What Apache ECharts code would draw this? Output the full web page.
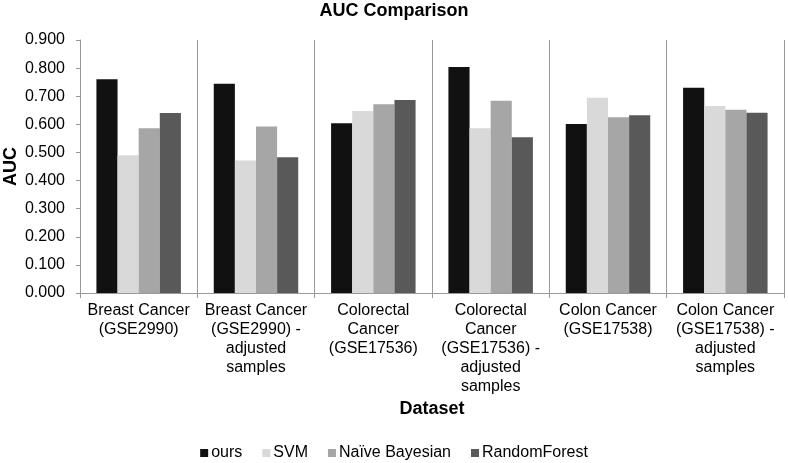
<!DOCTYPE html>
<html>
<head>
<meta charset="utf-8">
<script src="https://cdn.jsdelivr.net/npm/echarts@6/dist/echarts.min.js"></script>
<style>html,body{margin:0;padding:0;background:#fff;}#c{width:788px;height:463px;}</style>
</head>
<body>
<div id="c"></div>
<script>
var categories = [
  "Breast Cancer\n(GSE2990)",
  "Breast Cancer\n(GSE2990) -\nadjusted\nsamples",
  "Colorectal\nCancer\n(GSE17536)",
  "Colorectal\nCancer\n(GSE17536) -\nadjusted\nsamples",
  "Colon Cancer\n(GSE17538)",
  "Colon Cancer\n(GSE17538) -\nadjusted\nsamples"
];
var seriesNames = ["ours", "SVM", "Naïve Bayesian", "RandomForest"];
var ours = [0.760, 0.744, 0.604, 0.804, 0.601, 0.730];
var svm = [0.490, 0.471, 0.647, 0.586, 0.695, 0.665];
var naiveBayes = [0.586, 0.592, 0.671, 0.684, 0.625, 0.652];
var randomForest = [0.640, 0.483, 0.687, 0.554, 0.632, 0.641];
var colors = ["#111111", "#d9d9d9", "#a6a6a6", "#595959"];
var values = [ours, svm, naiveBayes, randomForest];

var font = "'Liberation Sans', Arial, sans-serif";
var chart = echarts.init(document.getElementById('c'));
chart.setOption({
  animation: false,
  title: {
    text: "AUC Comparison", left: 'center', top: 2, padding: 0,
    textStyle: {fontFamily: font, fontSize: 18, fontWeight: 'bold', color: '#000'}
  },
  legend: {
    bottom: 2, left: 'center', padding: 0, itemWidth: 8, itemHeight: 8, itemGap: 20,
    icon: 'rect',
    textStyle: {fontFamily: font, fontSize: 16, color: '#000', padding: [0, 0, 0, -2]},
    data: seriesNames
  },
  grid: {left: 80, right: 4, top: 40, bottom: 170, containLabel: false, outerBoundsMode: 'none'},
  xAxis: {
    type: 'category', data: categories,
    name: 'Dataset', nameLocation: 'middle', nameGap: 107, nameMoveOverlap: false,
    nameTextStyle: {fontFamily: font, fontSize: 18, fontWeight: 'bold', color: '#000'},
    axisLine: {lineStyle: {color: '#999'}},
    axisTick: {show: true, length: 5, lineStyle: {color: '#999'}},
    axisLabel: {fontFamily: font, fontSize: 16, color: '#000', lineHeight: 19, margin: 8, interval: 0},
    splitLine: {show: true, lineStyle: {color: '#999', width: 1}}
  },
  yAxis: {
    type: 'value', min: 0, max: 0.9, interval: 0.1,
    name: 'AUC', nameLocation: 'middle', nameGap: 60, nameRotate: 90, nameMoveOverlap: false,
    nameTextStyle: {fontFamily: font, fontSize: 18, fontWeight: 'bold', color: '#000'},
    axisLine: {show: true, lineStyle: {color: '#999'}},
    axisTick: {show: true, length: 4, lineStyle: {color: '#999'}},
    axisLabel: {fontFamily: font, fontSize: 16, color: '#000', margin: 15,
      formatter: function (v) { return v.toFixed(3); }},
    splitLine: {show: false}
  },
  series: seriesNames.map(function (n, i) {
    return {
      name: n, type: 'bar', data: values[i],
      barGap: '0%', barCategoryGap: '28%',
      itemStyle: {color: colors[i]}
    };
  })
});
</script>
</body>
</html>
